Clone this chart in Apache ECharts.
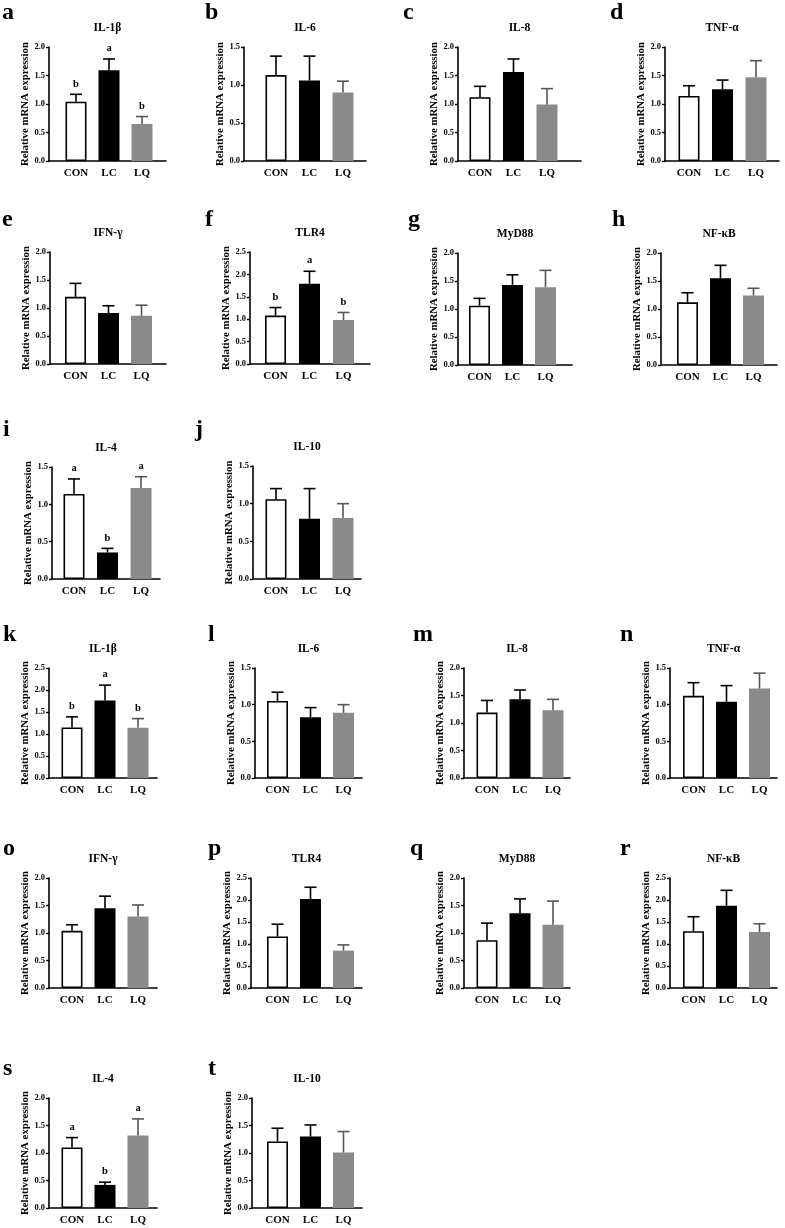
<!DOCTYPE html>
<html><head><meta charset="utf-8">
<script src="https://cdn.jsdelivr.net/npm/echarts@6/dist/echarts.min.js"></script>
<style>html,body{margin:0;padding:0;background:#fff}#c{width:785px;height:1228px}</style>
</head><body><div id="c"></div>
<script>
// ---------------- data ----------------
const groups = ['CON', 'LC', 'LQ'];
const panelLetters = ['a','b','c','d','e','f','g','h','i','j','k','l','m','n','o','p','q','r','s','t'];
const genes = ['IL-1β','IL-6','IL-8','TNF-α','IFN-γ','TLR4','MyD88','NF-κB','IL-4','IL-10',
               'IL-1β','IL-6','IL-8','TNF-α','IFN-γ','TLR4','MyD88','NF-κB','IL-4','IL-10'];
const yMaxValues = [2.0,1.5,2.0,2.0, 2.0,2.5,2.0,2.0, 1.5,1.5, 2.5,1.5,2.0,1.5, 2.0,2.5,2.0,2.5, 2.0,2.0];
const yTickStep = 0.5;
const yLabel = 'Relative mRNA expression';
const means = [
  [1.04,1.59,0.65],[1.13,1.06,0.90],[1.12,1.56,0.99],[1.14,1.26,1.47],
  [1.20,0.91,0.86],[1.08,1.79,0.98],[1.06,1.43,1.39],[1.12,1.55,1.24],
  [1.14,0.355,1.22],[1.06,0.80,0.81],
  [1.15,1.76,1.14],[1.05,0.83,0.89],[1.19,1.43,1.23],[1.12,1.04,1.22],
  [1.04,1.45,1.30],[1.17,2.02,0.85],[0.87,1.36,1.15],[1.29,1.87,1.27],
  [1.10,0.42,1.32],[1.21,1.30,1.01]
];
const sds = [
  [0.13,0.20,0.13],[0.25,0.32,0.15],[0.19,0.23,0.28],[0.18,0.16,0.29],
  [0.24,0.13,0.19],[0.18,0.28,0.17],[0.13,0.18,0.30],[0.17,0.23,0.13],
  [0.20,0.055,0.15],[0.14,0.40,0.19],
  [0.24,0.35,0.21],[0.12,0.13,0.11],[0.22,0.17,0.20],[0.18,0.22,0.21],
  [0.11,0.22,0.21],[0.28,0.27,0.13],[0.31,0.26,0.43],[0.33,0.35,0.19],
  [0.18,0.05,0.30],[0.24,0.21,0.38]
];
const sigLetters = [
  ['b','a','b'],null,null,null,
  null,['b','a','b'],null,null,
  ['a','b','a'],null,
  ['b','a','b'],null,null,null,
  null,null,null,null,
  ['a','b','a'],null
];

// ---------------- layout (pixels) ----------------
// [axisX, topY, bottomY, firstBarCenter, barSpacing, axisEndX]
const panelBox = [
  [49,47,161,76,33,166],[244,47,161,276,33.5,366],[458,47,161,480,33.5,581],[665,47,161,689,33.5,779],
  [50,252,364,75.5,33,166],[250,252,364,275.5,34,370],[458,253,365,479.5,33,572],[661,253,365,687.5,33,777],
  [52,467,579,74,33.5,160],[253,466,579,276,33.5,361],
  [49,668,778,72,33,157],[255,668,778,277.5,33,362],[464,668,778,487,33,570],[670,668,778,693.5,33,777],
  [49,878,988,72,33,157],[251,878,988,277.5,33,362],[464,878,988,487,33,570],[670,878,988,693.5,33,777],
  [49,1098,1208,72,33,157],[252,1098,1208,277.5,33,362]
];
// panel letter [x, baselineY]
const letterPos = [
  [2,21],[205,21],[403,21],[610,21],
  [2,228],[205,228],[408,228],[612,228],
  [3,438],[195,438],
  [3,643],[208,643],[413,643],[620,643],
  [3,857],[208,857],[410,857],[620,857],
  [3,1077],[208,1077]
];

const SERIF = '"Liberation Serif","Times New Roman",serif';
const barFill = ['#ffffff', '#000000', '#8a8a8a'];
const barBorder = ['#000000', '#000000', '#8a8a8a'];
const errColor = ['#000000', '#000000', '#555555'];

const grids = [], xAxes = [], yAxes = [], series = [], graphics = [];

panelBox.forEach((b, k) => {
  const [ax, top, bottom, c0, sp, endX] = b;
  const xmin = -(c0 - ax) / sp;
  const xmax = xmin + (endX - ax) / sp;
  grids.push({left: ax, top: top, width: endX - ax, height: bottom - top, containLabel: false});
  xAxes.push({
    type: 'value', gridIndex: k, min: xmin, max: xmax,
    splitLine: {show: false},
    axisLine: {show: true, onZero: false, lineStyle: {color: '#000', width: 1.6}},
    axisTick: {show: false},
    axisLabel: {
      customValues: [0, 1, 2],
      formatter: v => groups[Math.round(v)] || '',
      fontFamily: SERIF, fontWeight: 'bold', fontSize: 11, color: '#000', margin: 7
    }
  });
  yAxes.push({
    type: 'value', gridIndex: k, min: 0, max: yMaxValues[k], interval: yTickStep,
    splitLine: {show: false},
    axisLine: {show: true, onZero: false, lineStyle: {color: '#000', width: 1.6}},
    axisTick: {show: true, length: 3, lineStyle: {color: '#000', width: 1.4}},
    axisLabel: {formatter: v => v.toFixed(1), fontFamily: SERIF, fontWeight: 'bold', fontSize: 8.5, color: '#000', margin: 4},
    name: yLabel, nameLocation: 'middle', nameGap: 18, nameRotate: 90,
    nameTextStyle: {fontFamily: SERIF, fontWeight: 'bold', fontSize: 10.8, color: '#000'}
  });
  series.push({
    type: 'bar', xAxisIndex: k, yAxisIndex: k, barWidth: 21, silent: true,
    data: means[k].map((m, i) => ({
      value: [i, m],
      itemStyle: {color: barFill[i], borderColor: barBorder[i], borderWidth: i === 0 ? 1.6 : 0}
    }))
  });
  const sig = sigLetters[k];
  series.push({
    type: 'custom', xAxisIndex: k, yAxisIndex: k, silent: true, z: 5,
    data: means[k].map((m, i) => [i, m, sds[k][i]]),
    renderItem: (params, api) => {
      const i = api.value(0), m = api.value(1), s = api.value(2);
      const p0 = api.coord([i, m]);
      const p1 = api.coord([i, m + s]);
      const hw = 6;
      const col = errColor[i];
      const children = [
        {type: 'line', shape: {x1: p0[0], y1: p0[1], x2: p1[0], y2: p1[1]}, style: {stroke: col, lineWidth: 1.6}},
        {type: 'line', shape: {x1: p1[0] - hw, y1: p1[1], x2: p1[0] + hw, y2: p1[1]}, style: {stroke: col, lineWidth: 1.6}}
      ];
      if (sig) {
        children.push({type: 'text', x: p1[0], y: p1[1] - 5,
          style: {text: sig[i], font: 'bold 10.5px ' + SERIF, fill: '#000', align: 'center', verticalAlign: 'bottom'}});
      }
      return {type: 'group', children};
    }
  });
  // title
  graphics.push({type: 'text', x: (ax + endX) / 2, y: top - 19, silent: true,
    style: {text: genes[k], font: 'bold 11.5px ' + SERIF, fill: '#000', align: 'center', verticalAlign: 'middle'}});
  // panel letter
  const lp = letterPos[k];
  graphics.push({type: 'text', x: lp[0], y: lp[1] - 8, silent: true,
    style: {text: panelLetters[k], font: 'bold 24px ' + SERIF, fill: '#000', align: 'left', verticalAlign: 'middle'}});
});

const chart = echarts.init(document.getElementById('c'), null, {renderer: 'canvas'});
chart.setOption({
  animation: false,
  backgroundColor: '#fff',
  grid: grids, xAxis: xAxes, yAxis: yAxes, series: series, graphic: graphics
});
</script></body></html>
